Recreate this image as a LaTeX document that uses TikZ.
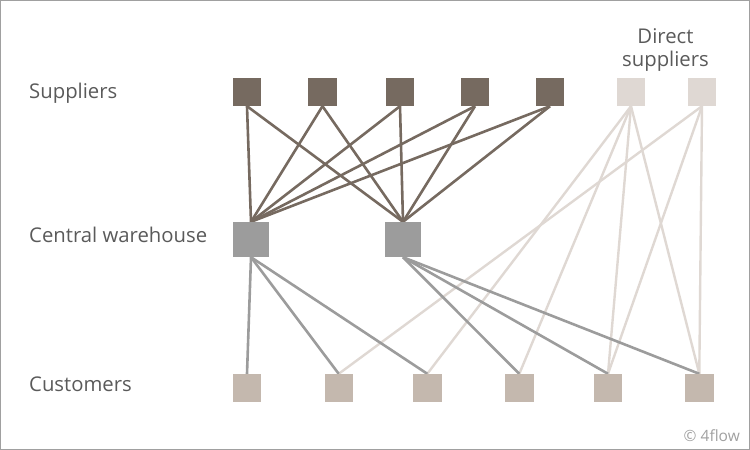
\documentclass[tikz,border=0pt]{standalone}
\usepackage{fontspec}
\setmainfont{Open Sans}
\definecolor{supc}{HTML}{766A60}
\definecolor{whc}{HTML}{9C9C9C}
\definecolor{custc}{HTML}{C4B8AE}
\definecolor{dsc}{HTML}{DFD8D3}
\definecolor{txtc}{HTML}{5A5A5A}
\definecolor{framec}{HTML}{A0A0A0}
\begin{document}
\begin{tikzpicture}[x=1pt,y=-1pt,
  sq/.style={rectangle,inner sep=0pt,minimum size=28pt,draw=none},
  supbox/.style={sq,fill=supc},
  dsbox/.style={sq,fill=dsc},
  custbox/.style={sq,fill=custc},
  whbox/.style={sq,minimum size=35pt,fill=whc},
  supline/.style={draw=supc,line width=2.6pt},
  whline/.style={draw=whc,line width=2.6pt},
  dsline/.style={draw=dsc,line width=2.4pt},
  lbl/.style={anchor=west,text=txtc,font=\fontsize{20.3}{23.5}\selectfont,inner sep=0pt}]
\draw[framec,line width=1pt] (0.5,0.5) rectangle (749.5,449.5);
\useasboundingbox (0,0) rectangle (750,450);
% labels
\node[lbl] (lsup) at (29,93.5) {Suppliers};
\node[lbl] (lwh) at (29,234.5) {Central warehouse};
\node[lbl] (lcust) at (29,384.5) {Customers};
\node[text=txtc,font=\fontsize{20.3}{23}\selectfont,align=center,inner sep=0pt] (lds) at (665.5,49.5) {Direct\\suppliers};
\node[anchor=east,text=framec,font=\fontsize{15.5}{17}\selectfont,inner sep=0pt] (copy) at (740,435.5) {© 4flow};
% nodes
\node[supbox] (s1) at (247,92) {};
\node[supbox] (s2) at (322.5,92) {};
\node[supbox] (s3) at (400,92) {};
\node[supbox] (s4) at (475,92) {};
\node[supbox] (s5) at (550,92) {};
\node[dsbox] (d1) at (631,92) {};
\node[dsbox] (d2) at (702,92) {};
\node[whbox] (w1) at (251,239.5) {};
\node[whbox] (w2) at (403,239.5) {};
\node[custbox] (c1) at (247,388) {};
\node[custbox] (c2) at (338.7,388) {};
\node[custbox] (c3) at (427.3,388) {};
\node[custbox] (c4) at (519.3,388) {};
\node[custbox] (c5) at (608,388) {};
\node[custbox] (c6) at (699.3,388) {};
% connectors
\foreach \c in {c3,c4,c5,c6} \draw[dsline] (d1.south) -- (\c.north);
\foreach \c in {c2,c5,c6} \draw[dsline] (d2.south) -- (\c.north);
\foreach \c in {c1,c2,c3} \draw[whline] (w1.south) -- (\c.north);
\foreach \c in {c4,c5,c6} \draw[whline] (w2.south) -- (\c.north);
\foreach \s in {s1,s2,s3,s4,s5} {\draw[supline] (\s.south) -- (w1.north); \draw[supline] (\s.south) -- (w2.north);}
% redraw boxes over lines
\foreach \n/\st in {s1/supbox,s2/supbox,s3/supbox,s4/supbox,s5/supbox,d1/dsbox,d2/dsbox,w1/whbox,w2/whbox,c1/custbox,c2/custbox,c3/custbox,c4/custbox,c5/custbox,c6/custbox}
  \fill[\st] (\n.north west) rectangle (\n.south east);
\end{tikzpicture}
\end{document}
